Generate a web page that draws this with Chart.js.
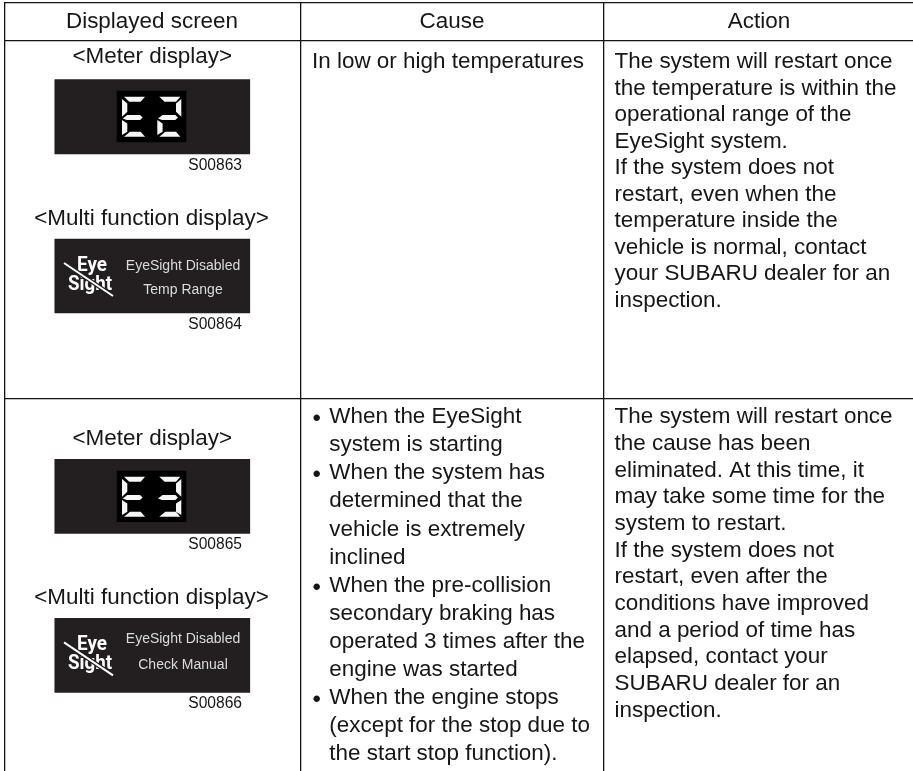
<!DOCTYPE html>
<html>
<head>
<meta charset="utf-8">
<style>html,body{margin:0;padding:0;background:#fff}canvas{display:block}</style>
<script src="https://cdn.jsdelivr.net/npm/chart.js@4"></script>
</head>
<body>
<canvas id="c" width="913" height="771"></canvas>
<script>
// ---- content ----
const headers = ["Displayed screen", "Cause", "Action"];
const meterTitle = "<Meter display>";
const multiTitle = "<Multi function display>";
const imageCodes = ["S00863", "S00864", "S00865", "S00866"];
const meterCodes = ["E2", "E3"];
const logoWords = ["Eye", "Sight"];
const panelMessages = [["EyeSight Disabled", "Temp Range"], ["EyeSight Disabled", "Check Manual"]];
const causeRow1 = ["In low or high temperatures"];
const actionRow1 = ["The system will restart once", "the temperature is within the", "operational range of the", "EyeSight system.", "If the system does not", "restart, even when the", "temperature inside the", "vehicle is normal, contact", "your SUBARU dealer for an", "inspection."];
const causeRow2 = ["• When the EyeSight", "  system is starting", "• When the system has", "  determined that the", "  vehicle is extremely", "  inclined", "• When the pre-collision", "  secondary braking has", "  operated 3 times after the", "  engine was started", "• When the engine stops", "  (except for the stop due to", "  the start stop function)."];
const actionRow2 = ["The system will restart once", "the cause has been", "eliminated. At this time, it", "may take some time for the", "system to restart.", "If the system does not", "restart, even after the", "conditions have improved", "and a period of time has", "elapsed, contact your", "SUBARU dealer for an", "inspection."];

// ---- table frame, read on the picture ----
const columnRules = [4.5, 300.7, 603.3];
const rowRules = [2.5, 40.5, 398.5];
const panelSpans = [[79.7, 154], [239, 313], [459.3, 533.3], [618.3, 692.3]];
const displaySpans = [[91, 142], [471, 521.7]];

const INK = "#161616", FONT = '"Liberation Sans", Arial, sans-serif', BODY = 22.45;
const SEG = {
  a: [[2,0],[23,0],[18.7,5],[7.3,5]],
  f: [[0,2.3],[5.3,6.7],[5.3,15],[0,20]],
  g: [[.7,21.7],[5.3,18.3],[18,18.3],[20.7,20.7],[18,23.3],[4.7,23.3]],
  e: [[0,23.3],[5.3,26.7],[5.3,35],[0,38.3]],
  d: [[2,40],[8,35],[18.7,35],[23,40]]
};
const mirror = s => s.map(p => [24 - p[0], p[1]]);
SEG.b = mirror(SEG.f); SEG.c = mirror(SEG.e);
const GLYPHS = { E: "afged", "2": "abged", "3": "abgcd" };

const tablePlugin = {
  id: "tableText",
  afterDatasetsDraw(chart) {
    const { ctx, scales: { x, y } } = chart;
    const X = v => x.getPixelForValue(v), Y = v => y.getPixelForValue(v);
    const text = (s, px, py, size, align, color, weight) => {
      ctx.font = (weight || "") + " " + size + "px " + FONT;
      ctx.textAlign = align; ctx.textBaseline = "alphabetic"; ctx.fillStyle = color || INK;
      ctx.fillText(s, X(px), Y(py));
    };
    const block = (lines, px, py, step, indent) => lines.forEach((l, i) => {
      const by = py + i * step;
      if (indent && l.startsWith("• ")) { text("•", px, by + 2.9, 24, "left"); text(l.slice(2), px + indent, by, BODY, "left"); }
      else if (indent) text(l.trim(), px + indent, by, BODY, "left");
      else text(l, px, by, BODY, "left");
    });
    ctx.save();
    text(headers[0], 152, 28.3, BODY, "center");
    text(headers[1], 452, 28.3, BODY, "center");
    text(headers[2], 759, 28.3, BODY, "center");

    [63.3, 445].forEach(b => text(meterTitle, 152.3, b, BODY, "center"));
    [224.5, 604].forEach(b => text(multiTitle, 151.5, b, BODY, "center"));
    [170, 329.3, 549.3, 708].forEach((b, i) => text(imageCodes[i], 242, b, 15.6, "right"));

    block(causeRow1, 312, 68.3, 26.6);
    block(actionRow1, 614.5, 68.3, 26.5);
    block(causeRow2, 312.5, 423.3, 28.05, 16.8);
    block(actionRow2, 614.5, 423.4, 26.66);

    // seven-segment readouts
    ctx.fillStyle = "#f6f6f6";
    meterCodes.forEach((code, r) => {
      const top = [96.7, 476.7][r];
      [...code].forEach((ch, k) => {
        const ox = [122, 157.3][k];
        [...GLYPHS[ch]].forEach(n => {
          ctx.beginPath();
          SEG[n].forEach((p, i) => ctx[i ? "lineTo" : "moveTo"](X(ox + p[0]), Y(top + p[1])));
          ctx.closePath(); ctx.fill();
        });
      });
    });

    // message panels
    panelMessages.forEach((msg, r) => {
      const bases = r ? [643, 669] : [270, 294];
      msg.forEach((m, i) => text(m, 183, bases[i], 14, "center", "#dcdcdc"));
      const dy = r ? 379.3 : 0;
      const fit = (s, l, rgt, b) => {
        ctx.save();
        ctx.font = "bold 20px Roboto, " + FONT;
        ctx.textAlign = "left"; ctx.fillStyle = "#fff";
        const w = ctx.measureText(s).width;
        ctx.translate(X(l), Y(b + dy));
        ctx.scale((rgt - l) / w, 1);
        ctx.fillText(s, 0, 0);
        ctx.restore();
      };
      fit(logoWords[0], 77, 107, 271);
      fit(logoWords[1], 68, 112, 290);
      ctx.lineCap = "butt";
      ctx.beginPath(); ctx.moveTo(X(64), Y(263 + dy)); ctx.lineTo(X(113), Y(296 + dy));
      ctx.strokeStyle = "#231f20"; ctx.lineWidth = 4.5; ctx.stroke();
      ctx.strokeStyle = "#fff"; ctx.lineWidth = 2; ctx.stroke();
    });
    ctx.restore();
  }
};

new Chart(document.getElementById("c"), {
  type: "bar",
  plugins: [tablePlugin],
  data: {
    datasets: [
      { label: "display", data: displaySpans.map(s => ({ x: 151.5, y: s })), backgroundColor: "#000", barThickness: 69, grouped: false, order: 1 },
      { label: "panel", data: panelSpans.map(s => ({ x: 152.3, y: s })), backgroundColor: "#231f20", barThickness: 195, grouped: false, order: 2 }
    ]
  },
  options: {
    responsive: false,
    animation: false,
    layout: { padding: { left: 4, top: 2, right: 0, bottom: 0 } },
    plugins: { legend: { display: false }, tooltip: { enabled: false }, title: { display: false } },
    scales: {
      x: {
        type: "linear", min: 4, max: 913, offset: false,
        afterBuildTicks: a => { a.ticks = columnRules.map(v => ({ value: v })); },
        grid: { offset: false, color: "#141414", lineWidth: 1.3, drawTicks: false },
        border: { display: false }, ticks: { display: false }
      },
      y: {
        type: "linear", min: 2, max: 771, reverse: true,
        afterBuildTicks: a => { a.ticks = rowRules.map(v => ({ value: v })); },
        grid: { color: "#141414", lineWidth: 1.3, drawTicks: false },
        border: { display: false }, ticks: { display: false }
      }
    }
  }
});
</script>
</body>
</html>
